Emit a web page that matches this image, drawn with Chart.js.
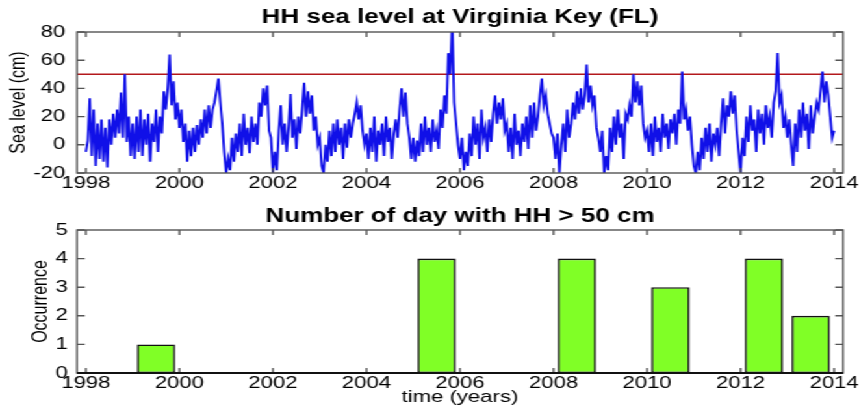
<!DOCTYPE html>
<html>
<head>
<meta charset="utf-8">
<title>HH sea level at Virginia Key (FL)</title>
<script src="https://cdn.jsdelivr.net/npm/chart.js@4/dist/chart.umd.min.js"></script>
<style>
body{margin:0;background:#fff;}
/* the original figure is stretched sideways, so draw narrow and stretch */
#wrap{width:661px;transform:scaleX(1.29955);transform-origin:0 0;}
canvas{display:block;}
</style>
</head>
<body>
<div id="wrap">
<canvas id="seaChart" width="661" height="200"></canvas>
<canvas id="hhChart" width="661" height="209"></canvas>
</div>
<script>

/* =========================
DATA
========================= */

// sea level (cm), about two readings per month
const sea1998 = [-5,3,33,-8,25,-15,15,-10,18,-12,12,-16,18,0,22,5,25,8,37,5,50,2,20,-8];
const sea1999 = [15,-10,20,-5,25,-8,18,0,22,-12,15,2,25,-5,20,8,38,25,40,64,28,45,18,30];
const sea2000 = [12,25,2,15,-12,10,-8,12,-5,14,0,18,5,25,8,28,12,25,30,38,47,30,15,-5];
const sea2001 = [-20,-10,-18,5,-12,8,-5,15,-8,22,0,12,-6,20,2,15,0,30,20,40,28,42,10,5];
const sea2002 = [-20,-5,-18,10,28,0,15,-5,12,36,5,18,-3,20,8,25,44,20,38,22,35,10,20,0];
const sea2003 = [5,-15,-20,0,-12,10,-8,15,-5,18,0,12,-10,15,-2,18,5,15,22,30,18,28,10,0];
const sea2004 = [8,-10,12,-5,20,-12,10,0,15,-8,20,2,12,-10,8,18,5,25,40,20,37,15,5,-10];
const sea2005 = [5,-12,3,-8,15,-5,20,0,12,-5,18,2,10,-3,25,12,35,22,65,50,88,30,15,0];
const sea2006 = [-10,5,-18,-5,-15,8,-8,20,0,15,-10,25,5,12,-5,18,2,22,35,15,30,18,33,10];
const sea2007 = [15,-5,12,-10,22,0,10,-8,15,2,20,-3,28,5,30,10,20,35,47,28,35,22,15,8];
const sea2008 = [5,-10,8,-20,0,15,-5,25,5,15,30,18,38,22,40,25,35,57,30,42,28,35,12,5];
const sea2009 = [-5,10,-20,-8,-18,12,-5,20,0,25,5,15,-10,22,18,28,20,50,30,45,28,42,15,5];
const sea2010 = [10,-5,15,-8,20,2,12,-5,22,5,15,-3,18,8,22,0,25,15,52,18,25,10,20,0];
const sea2011 = [-15,-20,-5,-18,5,-10,12,-5,15,-12,8,0,12,-8,15,33,8,28,20,38,22,35,10,-5];
const sea2012 = [-20,5,-8,20,2,28,10,18,-5,25,8,22,0,28,12,20,5,30,38,65,30,35,12,20];
const sea2013 = [5,18,0,-15,15,-5,25,5,30,10,22,-3,28,8,20,30,25,38,52,30,45,35,20,5];
const sea2014 = [10];

const seaYears = [1998,1999,2000,2001,2002,2003,2004,2005,2006,2007,2008,2009,2010,2011,2012,2013,2014];
const seaByYear = [sea1998,sea1999,sea2000,sea2001,sea2002,sea2003,sea2004,sea2005,sea2006,sea2007,sea2008,sea2009,sea2010,sea2011,sea2012,sea2013,sea2014];

const threshold = 50;

// days per year with HH > 50 cm
const hhYears = [1999,2005,2008,2010,2012,2013];
const hhDays = [1,4,4,3,4,2];

const yearTicks = [1998,2000,2002,2004,2006,2008,2010,2012,2014];
const seaTicks = [-20,0,20,40,60,80];
const dayTicks = [0,1,2,3,4,5];

const X_MIN = 1997.81;
const X_MAX = 2014.19;

/* =========================
HELPERS
========================= */

Chart.defaults.font.family = "'Liberation Sans', Arial, sans-serif";
Chart.defaults.color = "#000";

const seaPoints = seaByYear.flatMap((vals, k) =>
  vals.map((v, i) => ({ x: seaYears[k] + i / vals.length, y: v }))
);

const barPoints = hhYears.map((y, i) => ({ x: y + 0.5, y: hhDays[i] }));

// box round the plot with inward tick marks (matlab look)
const frame = {
  id: "frame",
  afterDatasetsDraw(chart, args, opts){
    const { ctx, chartArea: a, scales } = chart;
    ctx.save();
    ctx.strokeStyle = "#555";
    ctx.lineWidth = 1.4;
    ctx.strokeRect(a.left, a.top, a.right - a.left, a.bottom - a.top);
    ctx.beginPath();
    scales.x.ticks.forEach(t => {
      const px = scales.x.getPixelForValue(t.value);
      ctx.moveTo(px, a.bottom); ctx.lineTo(px, a.bottom - 5);
      ctx.moveTo(px, a.top); ctx.lineTo(px, a.top + 5);
    });
    scales.y.ticks.forEach(t => {
      const py = scales.y.getPixelForValue(t.value);
      ctx.moveTo(a.left, py); ctx.lineTo(a.left + 6, py);
      ctx.moveTo(a.right, py); ctx.lineTo(a.right - 6, py);
    });
    ctx.stroke();
    if(opts.baseline){
      const y0 = scales.y.getPixelForValue(0);
      ctx.strokeStyle = "#111";
      ctx.lineWidth = 2;
      ctx.beginPath();
      ctx.moveTo(a.left, y0); ctx.lineTo(a.right, y0);
      ctx.stroke();
    }
    ctx.restore();
  }
};

// centre the title over the plot box, not the canvas
const titleOverArea = {
  id: "titleOverArea",
  afterLayout(chart){
    const t = chart.titleBlock;
    if(t){
      t.left = chart.chartArea.left;
      t.right = chart.chartArea.right;
      t.width = t.right - t.left;
    }
  }
};

function xAxis(height, pad){
  return {
    type: "linear",
    min: X_MIN,
    max: X_MAX,
    offset: false,
    grid: { display: false, drawTicks: false },
    border: { display: false },
    ticks: { padding: pad, font: { size: 17 }, maxRotation: 0, autoSkip: false, callback: v => String(v) },
    afterBuildTicks: s => { s.ticks = yearTicks.map(v => ({ value: v })); },
    afterFit: s => { s.height = height; s.paddingLeft = 0; s.paddingRight = 0; }
  };
}

function yAxis(min, max, list, label, titlePad, tickPad){
  return {
    min: min,
    max: max,
    grid: { display: false, drawTicks: false },
    border: { display: false },
    ticks: { padding: tickPad, font: { size: 17 }, callback: v => String(v) },
    afterBuildTicks: s => { s.ticks = list.map(v => ({ value: v })); },
    title: { display: true, text: label, font: { size: 16 }, padding: { top: titlePad, bottom: 0 } },
    afterFit: s => { s.width = 59.25; s.paddingTop = 0; s.paddingBottom = 0; }
  };
}

/* =========================
SEA LEVEL CHART
========================= */

new Chart(document.getElementById("seaChart"), {
  type: "line",
  data: {
    datasets: [{
      data: seaPoints,
      borderColor: "#1010e8",
      borderWidth: 1.9,
      pointRadius: 0,
      tension: 0
    },{
      data: [{ x: X_MIN, y: threshold }, { x: X_MAX, y: threshold }],
      borderColor: "#b3191c",
      borderWidth: 1.4,
      pointRadius: 0
    }]
  },
  options: {
    responsive: false,
    animation: false,
    layout: { padding: { left: 0, right: 12.3, top: 0, bottom: 0 } },
    plugins: {
      legend: { display: false },
      tooltip: { enabled: false },
      title: {
        display: true,
        text: "HH sea level at Virginia Key (FL)",
        font: { size: 20, weight: "bold" },
        padding: { top: 5.5, bottom: 2.5 }
      },
      frame: { baseline: false }
    },
    scales: {
      x: xAxis(27, 0),
      y: yAxis(-20, 80, seaTicks, "Sea level (cm)", 5, 9)
    }
  },
  plugins: [frame, titleOverArea]
});

/* =========================
HH > 50 CM CHART
========================= */

const xBottom = xAxis(36, 0);
xBottom.title = { display: true, text: "time (years)", font: { size: 17 }, padding: { top: 0, bottom: 1 } };

new Chart(document.getElementById("hhChart"), {
  type: "bar",
  data: {
    datasets: [{
      data: barPoints,
      backgroundColor: "#80ff26",
      borderColor: "#111",
      borderWidth: 1.6,
      borderSkipped: false,
      barPercentage: 1,
      categoryPercentage: 0.82
    }]
  },
  options: {
    responsive: false,
    animation: false,
    layout: { padding: { left: 0, right: 12.3, top: 0, bottom: 0 } },
    plugins: {
      legend: { display: false },
      tooltip: { enabled: false },
      title: {
        display: true,
        text: "Number of day with HH > 50 cm",
        font: { size: 20, weight: "bold" },
        padding: { top: 4.5, bottom: 1.5 }
      },
      frame: { baseline: true }
    },
    scales: {
      x: xBottom,
      y: yAxis(0, 5, dayTicks, "Occurrence", 21.5, 7)
    }
  },
  plugins: [frame, titleOverArea]
});

</script>
</body>
</html>
